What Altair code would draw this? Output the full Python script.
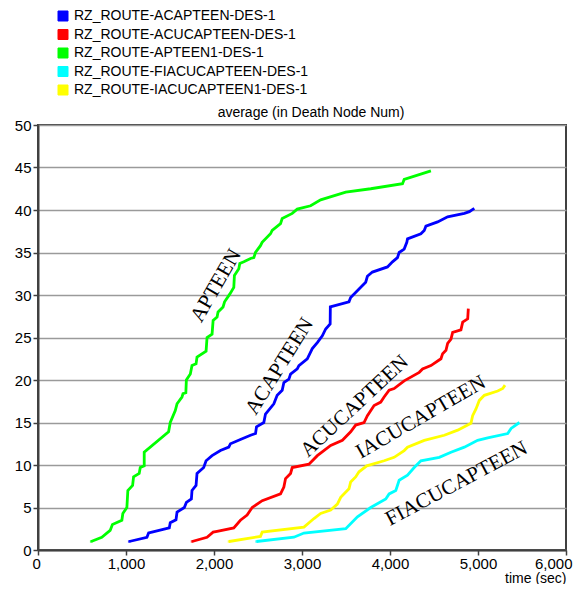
import altair as alt
import pandas as pd

# ---- data ----
series_names = [
    "RZ_ROUTE-ACAPTEEN-DES-1",
    "RZ_ROUTE-ACUCAPTEEN-DES-1",
    "RZ_ROUTE-APTEEN1-DES-1",
    "RZ_ROUTE-FIACUCAPTEEN-DES-1",
    "RZ_ROUTE-IACUCAPTEEN1-DES-1",
]
series_colors = ["#0000ff", "#ff0000", "#00ff00", "#00ffff", "#ffff00"]

green_x = [604, 725, 820, 846, 953, 964, 1010, 1021, 1075, 1086, 1150, 1162, 1207, 1207,
           1484, 1503, 1560, 1580, 1636, 1648, 1680, 1686, 1731, 1750, 1796, 1807, 1910,
           1921, 1978, 1990, 2035, 2046, 2103, 2120, 2179, 2225, 2232, 2282, 2293, 2339,
           2415, 2453, 2471, 2528, 2547, 2642, 2661, 2756, 2775, 2889, 2946, 3098, 3212,
           3497, 3781, 4142, 4161, 4465]
green_y = [1.0, 1.5, 2.3, 3.0, 3.5, 4.3, 5.0, 7.0, 7.6, 8.6, 9.0, 9.7, 9.9, 11.5,
           13.9, 15.0, 16.4, 17.2, 18.0, 18.4, 18.5, 20.0, 20.7, 21.7, 21.9, 22.7, 23.4,
           25.0, 25.4, 27.0, 27.4, 28.0, 28.6, 29.2, 30.1, 30.9, 32.3, 33.1, 33.7, 33.9,
           34.3, 34.4, 35.0, 35.8, 36.2, 37.2, 37.6, 38.4, 39.0, 39.6, 40.1, 40.5, 41.2,
           42.1, 42.5, 43.1, 43.6, 44.6]

blue_x = [1036, 1238, 1257, 1295, 1492, 1503, 1568, 1580, 1663, 1686, 1743, 1750, 1796,
          1807, 1883, 1910, 1978, 2073, 2168, 2187, 2300, 2415, 2472, 2483, 2566, 2585,
          2680, 2718, 2775, 2794, 2851, 2870, 2946, 2965, 3060, 3117, 3174, 3231, 3269,
          3320, 3322, 3534, 3553, 3648, 3724, 3743, 3800, 3971, 4028, 4085, 4104, 4161,
          4191, 4199, 4351, 4389, 4408, 4541, 4655, 4845, 4902, 4958]
blue_y = [1.0, 1.5, 2.0, 2.1, 2.6, 3.2, 3.55, 4.45, 5.0, 5.6, 6.0, 7.0, 7.6,
          9.0, 9.7, 10.5, 11.1, 11.7, 12.1, 12.5, 13.0, 13.5, 13.7, 14.5, 15.0, 16.0,
          17.2, 18.2, 18.8, 19.7, 20.1, 20.7, 21.3, 21.7, 22.5, 23.7, 24.4, 25.2, 26.0,
          26.6, 28.6, 29.2, 29.7, 30.7, 31.5, 32.2, 32.7, 33.3, 33.9, 34.4, 35.0, 35.4,
          36.2, 36.6, 37.2, 37.6, 38.1, 38.6, 39.2, 39.6, 39.8, 40.2]

red_x = [1750, 1921, 1990, 2035, 2225, 2300, 2376, 2434, 2548, 2756, 2794, 2813, 2870,
         2889, 3079, 3174, 3326, 3459, 3553, 3610, 3705, 3743, 3819, 3895, 3933, 3990,
         4047, 4161, 4332, 4370, 4465, 4579, 4598, 4636, 4655, 4693, 4712, 4806, 4826,
         4883, 4890]
red_y = [1.0, 1.5, 2.1, 2.2, 2.6, 3.5, 4.1, 5.0, 5.8, 6.6, 7.4, 8.4, 9.0,
         9.7, 10.1, 11.1, 12.3, 12.9, 13.9, 14.7, 15.0, 15.8, 17.0, 17.4, 18.0, 18.8,
         19.0, 19.9, 20.9, 21.3, 21.7, 22.5, 23.1, 23.5, 24.3, 24.8, 25.6, 25.9, 26.8,
         27.2, 28.4]

yellow_x = [2170, 2528, 2547, 3022, 3136, 3212, 3326, 3402, 3440, 3534, 3553, 3610, 3648,
            3736, 3933, 4047, 4161, 4199, 4389, 4617, 4769, 4920, 4939, 4977, 5015, 5072,
            5224, 5281, 5307]
yellow_y = [1.0, 1.6, 2.1, 2.7, 3.7, 4.3, 4.7, 5.4, 6.2, 7.2, 8.0, 8.6, 9.2,
            9.9, 10.5, 10.9, 11.7, 12.1, 12.9, 13.5, 14.1, 14.9, 15.8, 16.6, 17.6, 18.2,
            18.7, 19.0, 19.4]

cyan_x = [2483, 2908, 3022, 3497, 3630, 3781, 3952, 3990, 4066, 4104, 4199, 4275, 4351,
          4560, 4693, 4845, 4996, 5110, 5338, 5376, 5471]
cyan_y = [1.0, 1.5, 2.0, 2.5, 3.9, 5.0, 6.0, 6.6, 7.0, 8.2, 8.8, 9.7, 10.5,
          10.9, 11.5, 12.1, 12.9, 13.2, 13.7, 14.3, 15.0]

label_texts = ["APTEEN", "ACAPTEEN", "ACUCAPTEEN", "IACUCAPTEEN", "FIACUCAPTEEN"]
label_x = [2025, 2747, 3599, 4351, 4757]
label_y = [31.1, 21.6, 16.9, 15.6, 7.8]
label_angle = [300, 302, 317, 330, 332]

x_ticks = [0, 1000, 2000, 3000, 4000, 5000, 6000]
y_ticks = [0, 5, 10, 15, 20, 25, 30, 35, 40, 45, 50]

# ---- build tables ----
rows = []
for name, xs, ys in [
    (series_names[0], blue_x, blue_y),
    (series_names[1], red_x, red_y),
    (series_names[2], green_x, green_y),
    (series_names[3], cyan_x, cyan_y),
    (series_names[4], yellow_x, yellow_y),
]:
    for i, (a, b) in enumerate(zip(xs, ys)):
        rows.append({"series": name, "t": a, "v": b, "idx": i})
df = pd.DataFrame(rows)
first_df = df[df["idx"] == 0]

labels_df = pd.DataFrame({"text": label_texts, "t": label_x, "v": label_y, "angle": label_angle})

x_scale = alt.Scale(domain=[0, 6000], nice=False, zero=True)
y_scale = alt.Scale(domain=[0, 50], nice=False)

# small filled squares under the line starts: they carry the colour legend
legend_marks = alt.Chart(first_df).mark_square(size=6, filled=True).encode(
    x=alt.X("t:Q", scale=x_scale,
            axis=alt.Axis(values=x_ticks, format=",.0f", title="time (sec)",
                          titleAnchor="end", titleAlign="right", titleBaseline="alphabetic",
                          titleY=32, titleFontSize=14, labelPadding=1,
                          grid=False, labelFlush=True, labelFlushOffset=6)),
    y=alt.Y("v:Q", scale=y_scale,
            axis=alt.Axis(values=y_ticks, title=None, grid=True)),
    color=alt.Color("series:N",
                    scale=alt.Scale(domain=series_names, range=series_colors),
                    title=None,
                    legend=alt.Legend(
                        orient="none", legendX=18, legendY=-116,
                        symbolType="square", symbolSize=100, symbolOpacity=1,
                        symbolStrokeColor="black", symbolStrokeWidth=1,
                        labelFont="Liberation Sans", labelFontSize=14,
                        labelColor="black", rowPadding=4.5, labelLimit=400)),
)

lines = alt.Chart(df).mark_line(strokeWidth=2.8, interpolate="linear").encode(
    x=alt.X("t:Q", scale=x_scale),
    y=alt.Y("v:Q", scale=y_scale),
    stroke=alt.Stroke("series:N", scale=alt.Scale(domain=series_names, range=series_colors),
                      legend=None),
    order="idx:Q",
)

texts = alt.Chart(labels_df).mark_text(
    font="Liberation Serif", fontSize=21, color="black", align="center", baseline="middle"
).encode(
    x=alt.X("t:Q", scale=x_scale),
    y=alt.Y("v:Q", scale=y_scale),
    text="text:N",
    angle=alt.Angle("angle:Q", scale=None),
)

chart = alt.layer(legend_marks, lines, texts).properties(
    width=528,
    height=425,
    autosize=alt.AutoSizeParams(type="none"),
    padding={"left": 30, "top": 117, "right": 8, "bottom": 34},
    title=alt.TitleParams("average (in Death Node Num)", font="Liberation Sans",
                          fontSize=14, fontWeight="normal", color="black",
                          anchor="middle", offset=0, dy=111, dx=9),
).configure_view(
    stroke="#404040", strokeWidth=2
).configure_axis(
    labelFont="Liberation Sans", labelFontSize=15, labelColor="black",
    titleFont="Liberation Sans", titleFontSize=14, titleFontWeight="normal",
    titleColor="black", domainColor="#404040", domainWidth=2,
    tickColor="#404040", tickWidth=1.5, tickSize=5, labelPadding=2,
    gridColor="#9a9a9a", gridWidth=1.5, titlePadding=4,
)

chart.save("out.html", embed_options={"renderer": "svg", "actions": False})
